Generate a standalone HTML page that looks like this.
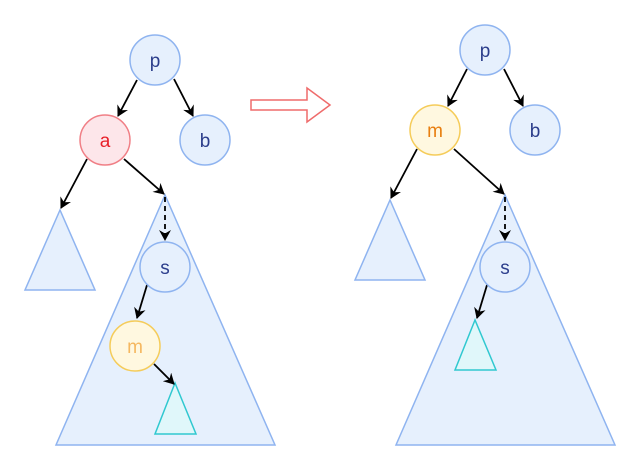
<!DOCTYPE html>
<html><head><meta charset="utf-8"><style>body{margin:0;background:#fff}svg{display:block}</style></head><body>
<svg width="640" height="471" viewBox="0 0 640 471" xmlns="http://www.w3.org/2000/svg" font-family="Liberation Sans, sans-serif" font-size="19" text-anchor="middle">
<defs><marker id="ar" markerWidth="12" markerHeight="12" refX="10" refY="6" orient="auto" markerUnits="userSpaceOnUse"><path d="M0,0 L11,6 L0,12 L3.5,6 Z" fill="#000"/></marker></defs>
<g fill="#e6f0fd" stroke="#8fb4f0" stroke-width="1.5">
<polygon points="165,195 56,445 275,445"/>
<polygon points="60,210 25,290 95,290"/>
<polygon points="505,195 396,445 615,445"/>
<polygon points="390,200 355,280 425,280"/>
</g>
<g fill="#e0f7fa" stroke="#30c8d0" stroke-width="1.5">
<polygon points="175,383 155,434 196,434"/>
<polygon points="475,320 455,370 496,370"/>
</g>
<g stroke="#000" stroke-width="1.8" fill="none" marker-end="url(#ar)">
<line x1="137" y1="80" x2="118" y2="116"/>
<line x1="174" y1="79" x2="193" y2="116"/>
<line x1="87" y1="159" x2="61" y2="208"/>
<line x1="124" y1="159" x2="164" y2="194"/>
<line x1="165" y1="197" x2="165" y2="240" stroke-dasharray="5,4"/>
<line x1="147" y1="285" x2="137" y2="318"/>
<line x1="154" y1="364" x2="174" y2="384"/>
<line x1="467" y1="69" x2="448" y2="106"/>
<line x1="504" y1="69" x2="523" y2="106"/>
<line x1="417" y1="149" x2="391" y2="198"/>
<line x1="454" y1="149" x2="504" y2="194"/>
<line x1="505" y1="197" x2="505" y2="240" stroke-dasharray="5,4"/>
<line x1="487" y1="285" x2="477" y2="318"/>
</g>
<g stroke-width="1.5">
<circle cx="155" cy="60" r="25" fill="#e6f0fd" stroke="#8fb4f0"/>
<circle cx="105" cy="140" r="25" fill="#fde6ea" stroke="#f07f86"/>
<circle cx="205" cy="140" r="25" fill="#e6f0fd" stroke="#8fb4f0"/>
<circle cx="165" cy="267" r="25" fill="#e6f0fd" stroke="#8fb4f0"/>
<circle cx="135" cy="346" r="25" fill="#fff8e0" stroke="#f5cc5a"/>
<circle cx="485" cy="50" r="25" fill="#e6f0fd" stroke="#8fb4f0"/>
<circle cx="435" cy="130" r="25" fill="#fff8e0" stroke="#f5cc5a"/>
<circle cx="535" cy="130" r="25" fill="#e6f0fd" stroke="#8fb4f0"/>
<circle cx="505" cy="267" r="25" fill="#e6f0fd" stroke="#8fb4f0"/>
</g>
<g fill="#2c3e8c">
<text x="155" y="67">p</text><text x="205" y="147">b</text><text x="165" y="274">s</text>
<text x="485" y="57">p</text><text x="535" y="137">b</text><text x="505" y="274">s</text>
</g>
<text x="105" y="147" fill="#e8202a">a</text>
<text x="135" y="353" fill="#f5b860">m</text>
<text x="435" y="137" fill="#e87f10">m</text>
<polygon points="251,100 307,100 307,88 330,105 307,122 307,110 251,110" fill="#fff" stroke="#ef6b6b" stroke-width="1.5"/>
</svg>
</body></html>
